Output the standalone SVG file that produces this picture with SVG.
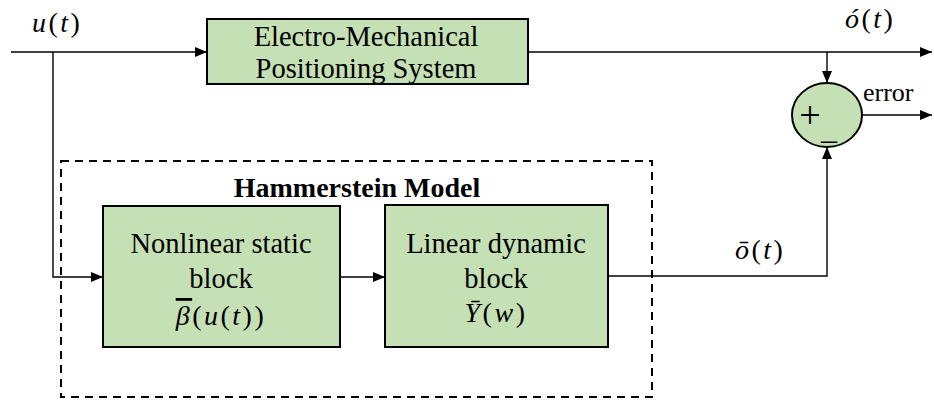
<svg xmlns="http://www.w3.org/2000/svg" width="934" height="403" viewBox="0 0 934 403">
  <style>
    .block { fill: #C5E0B4; stroke: #000; stroke-width: 2; }
    .wire { fill: none; stroke: #000; stroke-width: 1.4; }
    .frame { fill: none; stroke: #000; stroke-width: 2; stroke-dasharray: 8 6; }
    .lbl { font-family: "Liberation Serif", "Times New Roman", serif; font-size: 28.5px; fill: #000; }
    .math { font-family: "Liberation Serif", "Times New Roman", serif; font-size: 28px; letter-spacing: 2.5px; fill: #000; }
    .it { font-style: italic; }
    .bar { text-decoration: overline; }
    .title { font-family: "Liberation Serif", "Times New Roman", serif; font-size: 28px; font-weight: bold; fill: #000; }
  </style>
  <defs>
    <marker id="arrow" viewBox="0 0 12 10" refX="12" refY="5" markerWidth="12" markerHeight="10" markerUnits="userSpaceOnUse" orient="auto">
      <path d="M0,0 L12,5 L0,10 Z" fill="#000"/>
    </marker>
  </defs>

  <!-- Hammerstein model boundary -->
  <g id="hammerstein-frame">
    <rect class="frame" x="61" y="161" width="591" height="236"/>
    <text class="title" x="357" y="197" text-anchor="middle">Hammerstein Model</text>
  </g>

  <!-- signal connectors -->
  <g id="connectors">
    <path class="wire" d="M11,52 H207" marker-end="url(#arrow)"/>
    <path class="wire" d="M53,52 V277 H103" marker-end="url(#arrow)"/>
    <path class="wire" d="M528,52 H932" marker-end="url(#arrow)"/>
    <path class="wire" d="M827,52 V83" marker-end="url(#arrow)"/>
    <path class="wire" d="M340,277 H385" marker-end="url(#arrow)"/>
    <path class="wire" d="M608,276 H827 V147" marker-end="url(#arrow)"/>
    <path class="wire" d="M862,115 H932" marker-end="url(#arrow)"/>
  </g>

  <g id="plant">
    <rect class="block" x="207" y="19" width="321" height="65"/>
    <text class="lbl" x="366" y="46" text-anchor="middle">Electro-Mechanical</text>
    <text class="lbl" x="366" y="78" text-anchor="middle">Positioning System</text>
  </g>

  <g id="nonlinear-block">
    <rect class="block" x="103" y="206" width="237" height="141"/>
    <text class="lbl" x="221" y="253" text-anchor="middle">Nonlinear static</text>
    <text class="lbl" x="221" y="288" text-anchor="middle">block</text>
    <text class="math" x="221" y="325" text-anchor="middle"><tspan class="it bar">β</tspan>(<tspan class="it">u</tspan>(<tspan class="it">t</tspan>))</text>
  </g>

  <g id="linear-block">
    <rect class="block" x="385" y="205" width="223" height="142"/>
    <text class="lbl" x="496" y="253" text-anchor="middle">Linear dynamic</text>
    <text class="lbl" x="496" y="288" text-anchor="middle">block</text>
    <text class="math" x="496" y="322" text-anchor="middle"><tspan class="it">Ȳ</tspan>(<tspan class="it">w</tspan>)</text>
  </g>

  <g id="summing-junction">
    <ellipse class="block" cx="827" cy="115" rx="35" ry="32"/>
    <text class="lbl" x="810" y="128" text-anchor="middle" style="font-size:38px">+</text>
    <text class="lbl" x="829" y="139" text-anchor="middle" style="font-size:32px">_</text>
  </g>

  <g id="signal-labels">
    <text class="math" x="32" y="32"><tspan class="it">u</tspan>(<tspan class="it">t</tspan>)</text>
    <text class="math" x="845" y="28"><tspan class="it">ó</tspan>(<tspan class="it">t</tspan>)</text>
    <text class="math" x="735" y="259"><tspan class="it">ō</tspan>(<tspan class="it">t</tspan>)</text>
    <text class="lbl" x="863" y="101" style="font-size:26px">error</text>
  </g>
</svg>
